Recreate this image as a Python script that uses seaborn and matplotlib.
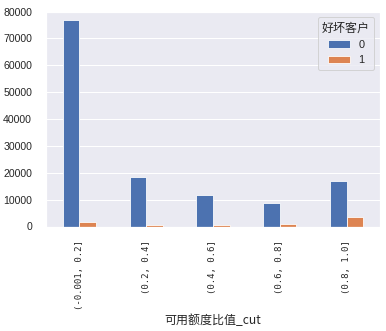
import matplotlib
matplotlib.use("Agg")
import matplotlib.pyplot as plt
import seaborn as sns
import pandas as pd

categories = ["(-0.001, 0.2]", "(0.2, 0.4]", "(0.4, 0.6]", "(0.6, 0.8]", "(0.8, 1.0]"]
good_0 = [77000, 18600, 11900, 8600, 17100]
bad_1 = [1500, 600, 600, 1000, 3700]

sns.set_theme(style="darkgrid")
plt.rcParams['font.family'] = ['Noto Sans CJK SC', 'DejaVu Sans']

df = pd.DataFrame({
    "可用额度比值_cut": categories * 2,
    "count": good_0 + bad_1,
    "好坏客户": ["0"] * len(categories) + ["1"] * len(categories),
})

fig = plt.figure(figsize=(386 / 72, 331 / 72), dpi=72)
ax = fig.add_axes([46 / 386, 1 - 226.5 / 331, 334 / 386, 215 / 331])
sns.barplot(data=df, x="可用额度比值_cut", y="count", hue="好坏客户",
            width=0.5, saturation=1, ax=ax, edgecolor="white", linewidth=0.8,
            errorbar=None)
ax.set_ylim(0, 80000)
ax.set_xlim(-0.5, 4.5)
ax.set_ylabel("")
ax.set_xlabel("可用额度比值_cut", fontsize=12)
ax.tick_params(axis="y", labelsize=10.5, pad=8)
for lab in ax.get_yticklabels():
    lab.set_fontfamily("Liberation Sans")
ax.set_xticks(range(len(categories)))
ax.set_xticklabels(categories, rotation=90, fontsize=9, family="DejaVu Sans Mono")
ax.tick_params(axis="x", pad=8)
leg = ax.legend(title="好坏客户", loc="upper right", fontsize=11, title_fontsize=12)
for t in leg.get_texts():
    t.set_fontfamily("Liberation Sans")
fig.savefig("out.png", dpi=72)
